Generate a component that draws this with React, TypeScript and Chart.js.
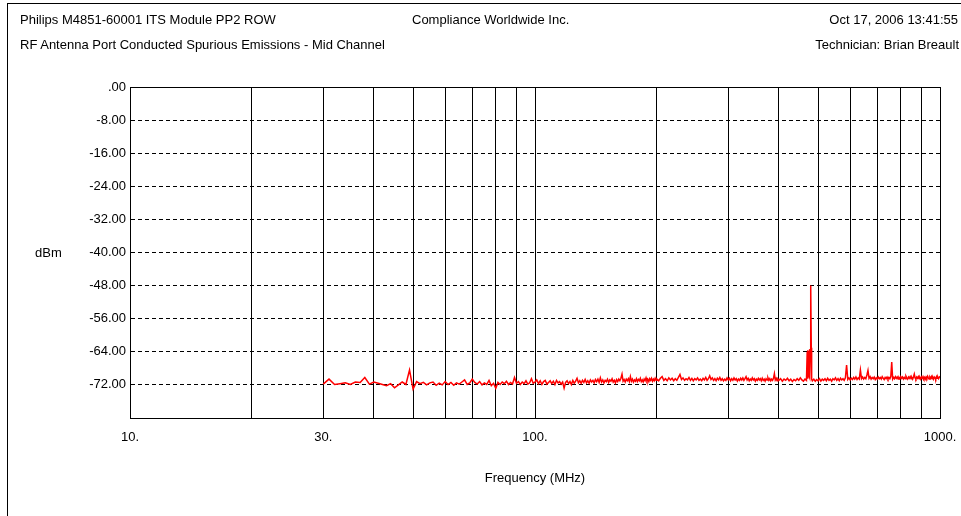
import React, { useEffect, useRef } from "react";
import { Chart, registerables } from "chart.js";

Chart.register(...registerables);

// ---- Data (MHz, dBm) ----
const LOW_BAND: [number, number][] = [
  [30, -71.8], [31, -70.6], [32, -71.9], [33, -71.7], [34, -71.5], [35, -71.9], [36, -71.3], [37, -71.4],
  [38, -70.2], [39, -71.8], [40, -71.3], [41, -71.6], [42, -71.9], [43, -72.2], [44, -71.7], [45, -72.7],
  [46, -72.0], [47, -71.3], [48, -71.9], [49, -68.4], [50, -73.0], [51, -71.2], [52, -71.7], [53, -71.4],
  [54, -72.0], [55, -71.5], [56, -71.3], [57, -72.1], [58, -71.6], [59, -72.0], [60, -71.2], [61, -71.9],
  [62, -71.4], [63, -72.1], [64, -71.5], [65, -71.8], [66, -71.3], [67, -70.8], [68, -71.9], [69, -71.5],
  [70, -70.6], [71, -71.4], [72, -71.8], [73, -71.2], [74, -72.0], [75, -71.5], [76, -71.9], [77, -70.9],
  [78, -72.2], [79, -71.6], [80, -72.8], [81, -71.4], [82, -71.9], [83, -71.3], [84, -71.7], [85, -71.1],
  [86, -71.9], [87, -71.4], [88, -71.8], [89, -70.2], [90, -71.6], [91, -71.2], [92, -71.9], [93, -71.3],
  [94, -71.7], [95, -71.0], [96, -71.8], [97, -71.5], [98, -70.5], [99, -71.6],
];

const MID_BAND: [number, number][] = [
  [100, -71.3], [101, -70.8], [102, -71.7], [103, -71.0], [104, -71.9], [105, -71.2], [106, -70.9], [107, -71.8], [108, -71.4], [109, -71.0],
  [110, -71.7], [111, -71.1], [112, -71.9], [113, -70.9], [114, -71.5], [115, -71.2], [116, -71.8], [117, -71.3], [118, -72.8], [119, -71.4],
  [120, -71.0], [121, -71.7], [122, -71.2], [123, -71.9], [124, -70.9], [125, -71.6], [126, -71.1], [127, -70.4], [128, -71.5], [129, -71.0],
  [130, -71.6], [131, -70.9], [132, -71.4], [133, -70.7], [134, -71.5], [135, -71.0], [136, -71.6], [137, -70.8], [138, -71.3], [139, -70.9],
  [140, -71.5], [141, -70.7], [142, -71.2], [143, -70.6], [144, -71.4], [145, -70.3], [146, -71.3], [147, -70.8], [148, -71.5], [149, -70.9],
  [150, -71.2], [151, -70.6], [152, -71.4], [153, -70.8], [154, -71.1], [155, -70.5], [156, -71.3], [157, -70.9], [158, -71.5], [159, -70.7],
  [160, -71.2], [161, -70.6], [162, -71.0], [163, -70.4], [164, -69.4], [165, -71.1], [166, -70.7], [167, -71.3], [168, -70.6], [169, -71.0],
  [170, -70.5], [171, -71.2], [172, -70.0], [173, -71.1], [174, -70.6], [175, -71.3], [176, -70.8], [177, -71.1], [178, -70.5], [179, -71.2],
  [180, -70.7], [181, -71.0], [182, -70.4], [183, -71.2], [184, -70.8], [185, -71.3], [186, -70.6], [187, -71.0], [188, -70.3], [189, -71.1],
  [190, -70.7], [191, -71.2], [192, -70.5], [193, -70.9], [194, -70.4], [195, -71.1], [196, -70.6], [197, -71.0], [198, -70.4], [199, -70.9],
  [200, -70.6], [202, -71.0], [204, -70.4], [206, -70.0], [208, -70.9], [210, -70.5], [212, -71.0], [214, -70.3], [216, -70.8], [218, -70.4],
  [220, -71.0], [222, -70.5], [224, -70.9], [226, -70.2], [228, -69.5], [230, -70.7], [232, -70.3], [234, -70.9], [236, -70.5], [238, -70.8],
  [240, -70.2], [242, -70.9], [244, -70.4], [246, -71.0], [248, -70.5], [250, -70.8], [252, -70.3], [254, -70.9], [256, -70.6], [258, -71.0],
  [260, -70.4], [262, -70.8], [264, -70.2], [266, -70.9], [268, -70.5], [270, -69.8], [272, -70.7], [274, -70.3], [276, -70.9], [278, -70.5],
  [280, -71.0], [282, -70.4], [284, -70.8], [286, -70.2], [288, -70.9], [290, -70.5], [292, -71.0], [294, -70.6], [296, -70.9], [298, -70.3],
  [300, -70.8], [302, -70.4], [304, -71.0], [306, -70.5], [308, -70.9], [310, -70.3], [312, -70.8], [314, -70.5], [316, -71.1], [318, -70.6],
  [320, -70.9], [322, -70.4], [324, -70.8], [326, -70.3], [328, -70.9], [330, -70.5], [332, -70.0], [334, -70.8], [336, -70.4], [338, -71.0],
  [340, -70.6], [342, -70.9], [344, -70.3], [346, -70.8], [348, -70.5], [350, -71.1], [352, -70.6], [354, -70.9], [356, -70.4], [358, -70.8],
  [360, -70.5], [362, -71.0], [364, -70.4], [366, -70.9], [368, -70.6], [370, -71.1], [372, -70.5], [374, -70.8], [376, -70.3], [378, -70.9],
  [380, -70.5], [382, -71.0], [384, -70.6], [386, -70.9], [388, -70.4], [390, -69.3], [392, -70.8], [394, -70.4], [396, -71.0], [398, -70.6],
];

const HIGH_BAND: [number, number][] = [
  [400, -70.9], [404, -70.5], [408, -71.1], [412, -70.6], [416, -70.9], [420, -70.4], [424, -71.0], [428, -70.6], [432, -71.2], [436, -70.7],
  [440, -71.0], [444, -70.5], [448, -70.9], [452, -70.3], [456, -70.8], [460, -71.1], [464, -70.6], [468, -70.9],
  [470, -64.0], [471, -70.5], [472, -63.6], [473, -70.0], [474, -63.8], [475, -69.8], [476, -63.4], [477, -70.2],
  [478, -63.5], [479, -62.0], [480, -48.0], [481, -63.0], [482, -70.6],
  [484, -71.0], [488, -70.6], [492, -71.1], [496, -70.7], [500, -71.0], [504, -70.5], [508, -71.1], [512, -70.6], [516, -70.9], [520, -70.5],
  [524, -71.0], [528, -70.4], [532, -70.9], [536, -70.6], [540, -71.1], [544, -70.5], [548, -70.8], [552, -70.3], [556, -70.9], [560, -70.5],
  [564, -71.0], [568, -70.4], [572, -70.8], [576, -70.5], [580, -70.9], [584, -70.3], [588, -67.2], [592, -70.7], [596, -70.3], [600, -70.8],
  [604, -70.4], [608, -70.7], [612, -70.2], [616, -70.6], [620, -70.1], [624, -70.7], [628, -70.3], [632, -70.6], [636, -68.4], [640, -70.5],
  [644, -70.1], [648, -70.6], [652, -70.2], [656, -70.5], [660, -69.6], [664, -68.5], [668, -70.4], [672, -70.0], [676, -70.6], [680, -70.2],
  [684, -70.5], [688, -70.1], [692, -70.7], [696, -70.3], [700, -70.6], [704, -70.1], [708, -70.5], [712, -70.2], [716, -70.6], [720, -70.0],
  [724, -70.4], [728, -70.7], [732, -70.2], [736, -70.5], [740, -70.1], [744, -70.6], [748, -70.2], [752, -70.5], [756, -70.0], [760, -66.5],
  [764, -70.6], [768, -70.2], [772, -70.5], [776, -70.0], [780, -70.4], [784, -70.1], [788, -70.6], [792, -70.2], [796, -70.5], [800, -70.0],
  [804, -70.4], [808, -70.1], [812, -70.6], [816, -70.2], [820, -70.5], [824, -69.9], [828, -70.3], [832, -70.6], [836, -70.1], [840, -70.4],
  [844, -70.0], [848, -70.5], [852, -70.2], [856, -70.6], [860, -70.1], [864, -69.4], [868, -70.3], [872, -70.6], [876, -70.1], [880, -70.4],
  [884, -70.0], [888, -70.5], [892, -70.2], [896, -70.6], [900, -70.1], [904, -70.4], [908, -70.0], [912, -70.5], [916, -70.2], [920, -70.6],
  [924, -70.1], [928, -70.4], [932, -69.9], [936, -70.3], [940, -70.6], [944, -70.1], [948, -70.4], [952, -70.0], [956, -70.5], [960, -70.2],
  [964, -70.6], [968, -70.1], [972, -70.3], [976, -70.6], [980, -70.0], [984, -70.4], [988, -70.1], [992, -70.5], [996, -70.2], [1000, -69.9],
];

const X_GRID = [10, 20, 30, 40, 50, 60, 70, 80, 90, 100, 200, 300, 400, 500, 600, 700, 800, 900, 1000];
const X_LABELS: Record<number, string> = { 10: "10.", 30: "30.", 100: "100.", 1000: "1000." };
const Y_TICKS = [-80, -72, -64, -56, -48, -40, -32, -24, -16, -8, 0];
const Y_LABELS: Record<number, string> = {
  0: ".00", [-8]: "-8.00", [-16]: "-16.00", [-24]: "-24.00", [-32]: "-32.00",
  [-40]: "-40.00", [-48]: "-48.00", [-56]: "-56.00", [-64]: "-64.00", [-72]: "-72.00",
};

const HEADER_LEFT_1 = "Philips M4851-60001 ITS Module PP2 ROW";
const HEADER_LEFT_2 = "RF Antenna Port Conducted Spurious Emissions - Mid Channel";
const HEADER_CENTER = "Compliance Worldwide Inc.";
const HEADER_RIGHT_1 = "Oct 17, 2006  13:41:55";
const HEADER_RIGHT_2 = "Technician: Brian Breault";
const Y_TITLE = "dBm";
const X_TITLE = "Frequency (MHz)";

const FONT = "'Liberation Sans', Arial, sans-serif";

const framePlugin = {
  id: "frame",
  afterDraw(chart: any) {
    const { ctx, chartArea } = chart;
    ctx.save();
    ctx.strokeStyle = "#000";
    ctx.lineWidth = 1;
    ctx.setLineDash([]);
    ctx.strokeRect(
      Math.round(chartArea.left) + 0.5,
      Math.round(chartArea.top) + 0.5,
      Math.round(chartArea.right - chartArea.left),
      Math.round(chartArea.bottom - chartArea.top)
    );
    ctx.restore();
  },
};

export default function App() {
  const ref = useRef<HTMLCanvasElement | null>(null);

  useEffect(() => {
    if (!ref.current) return;
    const points = [...LOW_BAND, ...MID_BAND, ...HIGH_BAND].map(([x, y]) => ({ x, y }));
    const chart = new Chart(ref.current, {
      type: "scatter",
      data: {
        datasets: [
          {
            data: points,
            showLine: true,
            borderColor: "#ff0000",
            backgroundColor: "#ff0000",
            borderWidth: 1.5,
            pointRadius: 0,
            tension: 0,
          },
        ],
      },
      options: {
        animation: false,
        responsive: false,
        devicePixelRatio: 1,
        layout: { padding: { left: 0, top: 87, right: 21, bottom: 0 } },
        plugins: { legend: { display: false }, tooltip: { enabled: false } },
        scales: {
          x: {
            type: "logarithmic",
            min: 10,
            max: 1000,
            afterBuildTicks: (s: any) => {
              s.ticks = X_GRID.map((v) => ({ value: v }));
            },
            afterFit: (s: any) => {
              s.height = 98;
              s.paddingLeft = 0;
              s.paddingRight = 0;
            },
            ticks: {
              autoSkip: false,
              maxRotation: 0,
              padding: 12,
              color: "#000",
              font: { family: FONT, size: 13 },
              callback: (v: any) => X_LABELS[Number(v)] ?? "",
            },
            grid: { color: "#000", lineWidth: 1, drawTicks: false },
            border: { display: true, color: "#000" },
            title: {
              display: true,
              text: X_TITLE,
              color: "#000",
              font: { family: FONT, size: 13 },
              padding: { top: 4, bottom: 30 },
            },
          },
          y: {
            type: "linear",
            min: -80,
            max: 0,
            afterBuildTicks: (s: any) => {
              s.ticks = Y_TICKS.map((v) => ({ value: v }));
            },
            afterFit: (s: any) => {
              s.width = 130;
            },
            ticks: {
              autoSkip: false,
              padding: 4,
              color: "#000",
              font: { family: FONT, size: 13 },
              callback: (v: any) => Y_LABELS[Number(v)] ?? "",
            },
            grid: {
              color: (c: any) =>
                c.tick && (c.tick.value === 0 || c.tick.value === -80) ? "rgba(0,0,0,0)" : "#000",
              lineWidth: 1,
              drawTicks: false,
            },
            border: { display: true, color: "#000", dash: [4, 3] },
          },
        },
      },
      plugins: [framePlugin],
    });
    return () => chart.destroy();
  }, []);

  const text: React.CSSProperties = {
    position: "absolute",
    fontFamily: FONT,
    fontSize: 13,
    lineHeight: "15px",
    color: "#000",
    whiteSpace: "nowrap",
  };

  return (
    <div
      style={{
        position: "fixed",
        left: 0,
        top: 0,
        width: 961,
        height: 516,
        background: "#fff",
        overflow: "hidden",
      }}
    >
      <div
        style={{
          position: "absolute",
          left: 7,
          top: 3,
          width: 960,
          height: 520,
          borderTop: "1px solid #000",
          borderLeft: "1px solid #000",
        }}
      />
      <canvas ref={ref} width={961} height={516} style={{ position: "absolute", left: 0, top: 0 }} />
      <div style={{ ...text, left: 20, top: 12 }}>{HEADER_LEFT_1}</div>
      <div style={{ ...text, left: 20, top: 37 }}>{HEADER_LEFT_2}</div>
      <div style={{ ...text, left: 412, top: 12 }}>{HEADER_CENTER}</div>
      <div style={{ ...text, right: 3, top: 12 }}>{HEADER_RIGHT_1}</div>
      <div style={{ ...text, right: 2, top: 37 }}>{HEADER_RIGHT_2}</div>
      <div style={{ ...text, left: 35, top: 245 }}>{Y_TITLE}</div>
    </div>
  );
}
